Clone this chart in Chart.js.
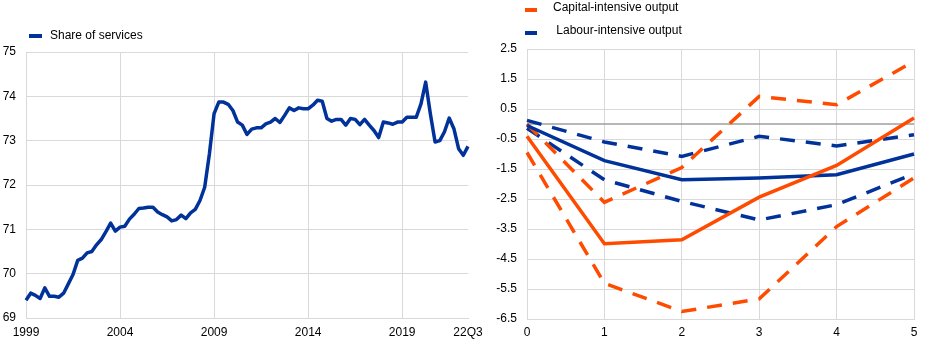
<!DOCTYPE html>
<html>
<head>
<meta charset="utf-8">
<script src="https://cdn.jsdelivr.net/npm/chart.js@4.4.0/dist/chart.umd.min.js"></script>
<style>
  body { margin: 0; background: #fff; }
  #wrap { position: relative; width: 945px; height: 345px; overflow: hidden; }
  #leftBox { position: absolute; left: 0; top: 0; width: 490px; height: 345px; }
  #rightBox { position: absolute; left: 480px; top: 0; width: 465px; height: 345px; }
</style>
</head>
<body>
<div id="wrap">
  <div id="leftBox"><canvas id="servicesChart" width="490" height="345"></canvas></div>
  <div id="rightBox"><canvas id="irfChart" width="465" height="345"></canvas></div>
</div>
<script>
// left panel: share of services, quarterly 1999Q1 - 2022Q3
var shareOfServices = [
  69.40, 69.56, 69.51, 69.44, 69.68, 69.49, 69.49, 69.47, 69.56, 69.77,
  69.98, 70.30, 70.35, 70.47, 70.50, 70.65, 70.77, 70.95, 71.14, 70.96,
  71.05, 71.07, 71.23, 71.34, 71.47, 71.48, 71.50, 71.50, 71.39, 71.33,
  71.28, 71.19, 71.22, 71.32, 71.24, 71.37, 71.45, 71.65, 71.95, 72.70,
  73.61, 73.87, 73.87, 73.82, 73.68, 73.42, 73.35, 73.14, 73.26, 73.29,
  73.29, 73.38, 73.42, 73.50, 73.41, 73.57, 73.74, 73.68, 73.74, 73.72,
  73.72, 73.80, 73.91, 73.89, 73.50, 73.44, 73.48, 73.48, 73.35, 73.50,
  73.48, 73.36, 73.48, 73.35, 73.23, 73.07, 73.42, 73.40, 73.37, 73.42,
  73.42, 73.53, 73.53, 73.53, 73.83, 74.32, 73.60, 72.97, 73.00, 73.20,
  73.51, 73.27, 72.82, 72.67, 72.87
];
var quarters = [];
for (var yr = 1999; yr <= 2022; yr++) {
  for (var q = 1; q <= 4; q++) {
    if (yr === 2022 && q > 3) break;
    quarters.push(yr + 'Q' + q);
  }
}

// right panel: impulse responses (central estimate and bands)
var horizons = ['0', '1', '2', '3', '4', '5'];
var capitalMid   = [-0.41, -3.99, -3.86, -2.44, -1.38, 0.20];
var capitalUpper = [0.00, -2.61, -1.45, 0.92, 0.64, 2.09];
var capitalLower = [-0.95, -5.31, -6.25, -5.83, -3.42, -1.80];
var labourMid    = [-0.05, -1.22, -1.86, -1.80, -1.69, -1.00];
var labourUpper  = [0.12, -0.60, -1.08, -0.41, -0.73, -0.36];
var labourLower  = [-0.14, -1.86, -2.58, -3.20, -2.69, -1.66];
var zeroLine     = [0, 0, 0, 0, 0, 0];

var blue = '#003299';
var orange = '#ff4b00';
var gridGrey = '#d9d9d9';
var fontFam = '"Liberation Sans", Arial, sans-serif';

Chart.defaults.font.family = fontFam;
Chart.defaults.font.size = 12;
Chart.defaults.color = '#000';

// small legend drawn by hand so the entries can sit where the original has them
var keyLegend = {
  id: 'keyLegend',
  afterDraw: function(chart, args, opts) {
    var ctx = chart.ctx;
    var items = chart.data.datasets.filter(function(d) { return d.showInKey; });
    ctx.save();
    ctx.font = '12px ' + fontFam;
    ctx.textBaseline = 'middle';
    items.forEach(function(d, i) {
      var y = opts.y + i * opts.rowGap;
      ctx.fillStyle = d.borderColor;
      ctx.fillRect(opts.x, y + opts.markerDy - 2, opts.boxWidth, 4);
      ctx.fillStyle = '#000';
      ctx.fillText(d.label, opts.x + opts.boxWidth + opts.gap, y);
    });
    ctx.restore();
  }
};

new Chart(document.getElementById('servicesChart'), {
  type: 'line',
  data: {
    labels: quarters,
    datasets: [{
      label: 'Share of services',
      data: shareOfServices,
      borderColor: blue,
      backgroundColor: blue,
      borderWidth: 3.5,
      pointRadius: 0,
      tension: 0,
      borderJoinStyle: 'round',
      showInKey: true
    }]
  },
  plugins: [keyLegend],
  options: {
    responsive: false,
    animation: false,
    layout: { padding: { top: 52, left: 0, right: 22, bottom: 0 } },
    plugins: {
      legend: { display: false },
      tooltip: { enabled: false },
      keyLegend: { x: 29, y: 36, rowGap: 23, boxWidth: 13, gap: 8, markerDy: 0 }
    },
    scales: {
      x: {
        offset: false,
        grid: {
          drawTicks: false,
          color: function(c) { return c.index % 20 === 0 ? gridGrey : 'rgba(0,0,0,0)'; }
        },
        border: { color: gridGrey },
        ticks: {
          autoSkip: false,
          maxRotation: 0,
          padding: 7,
          callback: function(v, i) {
            var lab = quarters[i];
            if (i === quarters.length - 1) return lab.slice(2);
            return i % 20 === 0 ? lab.slice(0, 4) : '';
          }
        },
        afterFit: function(s) { s.height = 27; }
      },
      y: {
        min: 69,
        max: 75,
        grid: { drawTicks: false, color: gridGrey },
        border: { color: gridGrey },
        ticks: { stepSize: 1, padding: 10 },
        afterFit: function(s) { s.width = 26; }
      }
    }
  }
});

function irfLine(label, data, color, dashed, key) {
  return {
    label: label,
    data: data,
    borderColor: color,
    backgroundColor: color,
    borderWidth: 3.5,
    borderDash: dashed ? [15, 11] : [],
    pointRadius: 0,
    tension: 0,
    showInKey: key
  };
}

new Chart(document.getElementById('irfChart'), {
  type: 'line',
  data: {
    labels: horizons,
    datasets: [
      irfLine('Capital-intensive output', capitalMid, orange, false, false),
      irfLine('Labour-intensive output', labourMid, blue, false, false),
      irfLine('Capital-intensive output', capitalUpper, orange, true, true),
      irfLine(' Labour-intensive output', labourUpper, blue, true, true),
      irfLine('Capital-intensive lower', capitalLower, orange, true, false),
      irfLine('Labour-intensive lower', labourLower, blue, true, false),
      {
        label: 'zero',
        data: zeroLine,
        borderColor: '#6f6f6f',
        borderWidth: 1,
        pointRadius: 0,
        order: 10
      }
    ]
  },
  plugins: [keyLegend],
  options: {
    responsive: false,
    animation: false,
    layout: { padding: { top: 49, left: 0, right: 31, bottom: 0 } },
    plugins: {
      legend: { display: false },
      tooltip: { enabled: false },
      keyLegend: { x: 45, y: 8, rowGap: 23, boxWidth: 12, gap: 16, markerDy: 2 }
    },
    scales: {
      x: {
        offset: false,
        grid: { drawTicks: false, color: gridGrey },
        border: { color: gridGrey },
        ticks: { maxRotation: 0, padding: 6 },
        afterFit: function(s) { s.height = 26; }
      },
      y: {
        min: -6.5,
        max: 2.5,
        grid: { drawTicks: false, color: gridGrey },
        border: { color: gridGrey },
        ticks: { stepSize: 1, padding: 10 },
        afterFit: function(s) { s.width = 47; }
      }
    }
  }
});
</script>
</body>
</html>
